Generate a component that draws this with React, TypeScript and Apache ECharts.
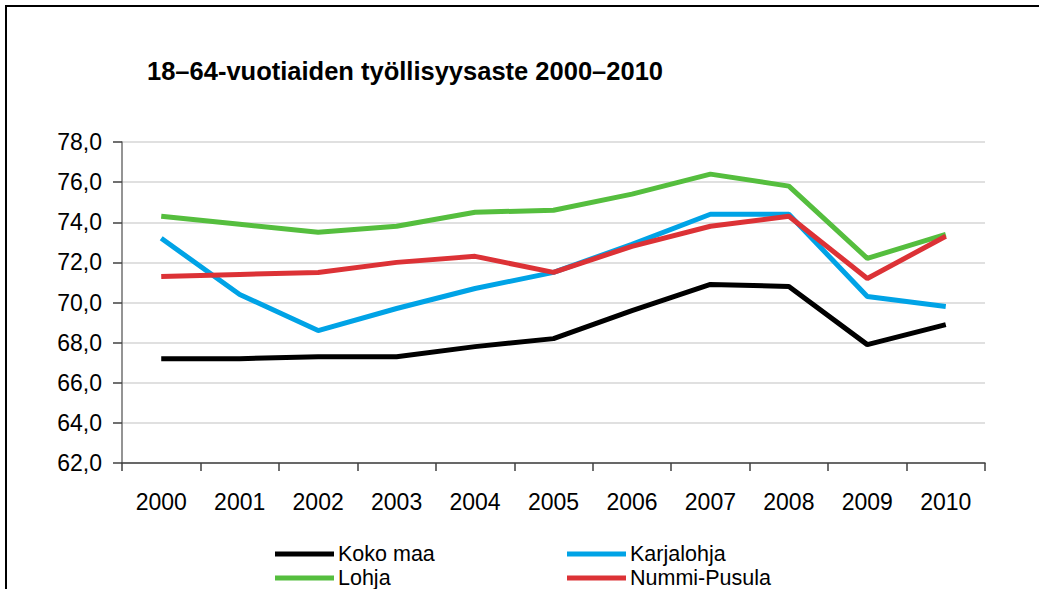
import React, { useEffect, useRef } from "react";
import * as echarts from "echarts";

const years = ["2000", "2001", "2002", "2003", "2004", "2005", "2006", "2007", "2008", "2009", "2010"];
const kokoMaa = [67.2, 67.2, 67.3, 67.3, 67.8, 68.2, 69.6, 70.9, 70.8, 67.9, 68.9];
const karjalohja = [73.2, 70.4, 68.6, 69.7, 70.7, 71.5, 72.9, 74.4, 74.4, 70.3, 69.8];
const lohja = [74.3, 73.9, 73.5, 73.8, 74.5, 74.6, 75.4, 76.4, 75.8, 72.2, 73.4];
const nummiPusula = [71.3, 71.4, 71.5, 72.0, 72.3, 71.5, 72.8, 73.8, 74.3, 71.2, 73.3];
const seriesNames = ["Koko maa", "Karjalohja", "Lohja", "Nummi-Pusula"];
const seriesColors = ["#000000", "#00a3e6", "#55be3e", "#dc3236"];
const yMin = 62;
const yMax = 78;
const yStep = 2;
const titleText = "18–64-vuotiaiden työllisyysaste 2000–2010";

const FONT = "Arial, 'Liberation Sans', sans-serif";

export default function App() {
  const ref = useRef<HTMLDivElement>(null);
  useEffect(() => {
    document.body.style.margin = "0";
    const chart = echarts.init(ref.current!, null, { renderer: "svg" });
    const data = [kokoMaa, karjalohja, lohja, nummiPusula];
    const legendPos = [
      { left: 275, top: 543 },
      { left: 567, top: 543 },
      { left: 275, top: 567 },
      { left: 567, top: 567 },
    ];
    chart.setOption({
      animation: false,
      backgroundColor: "#ffffff",
      title: {
        text: titleText,
        left: 147,
        top: 58,
        padding: 0,
        textStyle: { fontFamily: FONT, fontSize: 25.5, fontWeight: "bold", color: "#000" },
      },
      legend: seriesNames.map((n, i) => ({
        data: [n],
        left: legendPos[i].left,
        top: legendPos[i].top,
        padding: 0,
        icon: "rect",
        itemWidth: 59,
        itemHeight: 5,
        textStyle: {
          fontFamily: FONT,
          fontSize: 21.5,
          lineHeight: 20,
          color: "#000",
          padding: [0, 0, 0, -1],
        },
        selectedMode: false,
      })),
      grid: { left: 122, top: 142, right: 54, bottom: 126, containLabel: false },
      xAxis: {
        type: "category",
        data: years,
        boundaryGap: true,
        axisLine: { lineStyle: { color: "#404040", width: 1.5 } },
        axisTick: { show: true, length: 8, lineStyle: { color: "#404040", width: 1.5 } },
        axisLabel: { fontFamily: FONT, fontSize: 23, color: "#000", margin: 27 },
        splitLine: { show: false },
      },
      yAxis: {
        type: "value",
        min: yMin,
        max: yMax,
        interval: yStep,
        axisLine: { show: true, lineStyle: { color: "#707070", width: 1.5 } },
        axisTick: { show: true, length: 9, lineStyle: { color: "#404040", width: 1.5 } },
        axisLabel: {
          fontFamily: FONT,
          fontSize: 23,
          color: "#000",
          margin: 20,
          formatter: (v: number) => v.toFixed(1).replace(".", ","),
        },
        splitLine: { lineStyle: { color: "#d6d6d6", width: 1.5 } },
      },
      series: seriesNames.map((n, i) => ({
        name: n,
        type: "line",
        data: data[i],
        showSymbol: false,
        symbol: "none",
        lineStyle: { color: seriesColors[i], width: 5 },
        itemStyle: { color: seriesColors[i] },
        z: 2 + i,
      })),
      graphic: [
        {
          type: "polyline",
          shape: { points: [[6, 589], [6, 6], [1039, 6]] },
          style: { stroke: "#000", lineWidth: 2, fill: "none" },
          silent: true,
        },
      ],
    });
    return () => chart.dispose();
  }, []);
  return <div ref={ref} style={{ width: 1039, height: 589 }} />;
}
